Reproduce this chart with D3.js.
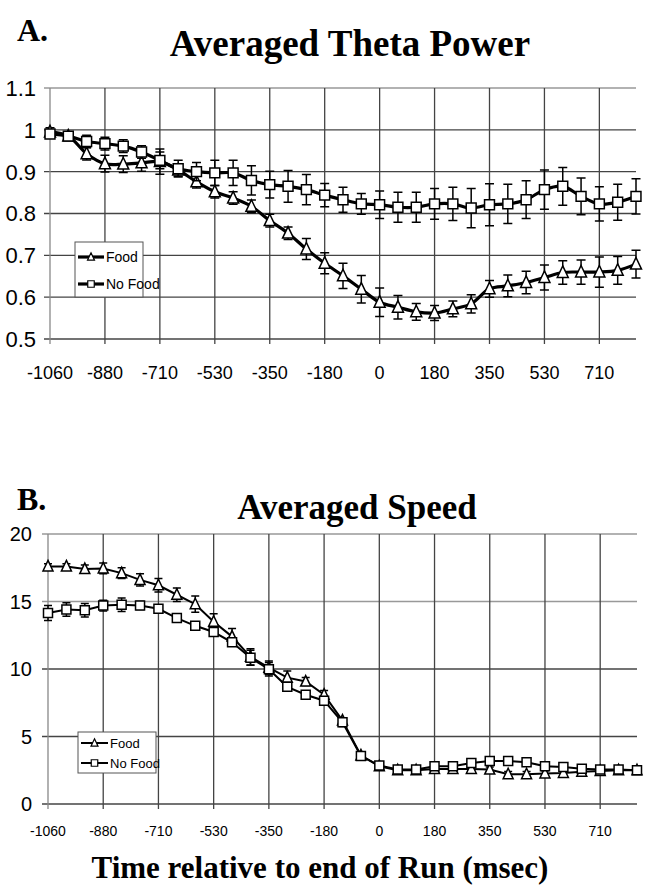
<!DOCTYPE html>
<meta charset="utf-8">
<style>
body { margin: 0; background: #fff; }
.title { font-family: "Liberation Serif", "Times New Roman", serif; font-weight: bold; }
.narrow { font-family: "Liberation Sans Narrow", "Arial Narrow", "Liberation Sans", sans-serif; }
.arial { font-family: "Liberation Sans", Arial, sans-serif; }
</style>
<svg width="646" height="891"></svg>
<script src="https://d3js.org/d3.v7.min.js"></script>
<script>

// category labels, one every 3 points
var tickLabels = ["-1060", "-880", "-710", "-530", "-350", "-180", "0", "180", "350", "530", "710"];

// A. theta power (33 points)
var thetaFood = [0.995, 0.985, 0.943, 0.919, 0.918, 0.921, 0.924, 0.904, 0.876, 0.852, 0.837, 0.817, 0.783, 0.753, 0.715, 0.681,
  0.651, 0.619, 0.588, 0.576, 0.565, 0.562, 0.572, 0.584, 0.620, 0.627, 0.635, 0.647, 0.659, 0.660, 0.660, 0.664, 0.679];
var thetaFoodErr = [0.01, 0.01, 0.015, 0.02, 0.02, 0.02, 0.03, 0.015, 0.015, 0.015, 0.015, 0.015, 0.015, 0.015, 0.025, 0.025,
  0.03, 0.033, 0.034, 0.028, 0.02, 0.018, 0.019, 0.022, 0.02, 0.026, 0.027, 0.03, 0.028, 0.029, 0.036, 0.033, 0.033];
var thetaNoFood = [0.99, 0.985, 0.972, 0.967, 0.961, 0.947, 0.927, 0.907, 0.900, 0.897, 0.897, 0.879, 0.869, 0.865, 0.857, 0.844,
  0.833, 0.823, 0.821, 0.815, 0.815, 0.823, 0.823, 0.813, 0.821, 0.823, 0.833, 0.857, 0.865, 0.841, 0.823, 0.827, 0.841];
var thetaNoFoodErr = [0.01, 0.01, 0.015, 0.015, 0.015, 0.015, 0.02, 0.02, 0.022, 0.03, 0.03, 0.035, 0.032, 0.038, 0.036, 0.028,
  0.03, 0.025, 0.033, 0.036, 0.036, 0.037, 0.04, 0.047, 0.05, 0.047, 0.045, 0.047, 0.045, 0.044, 0.041, 0.043, 0.042];

// B. speed (33 points)
var speedFood = [17.6, 17.6, 17.4, 17.45, 17.1, 16.6, 16.2, 15.5, 14.8, 13.5, 12.4, 10.9, 10.1, 9.36, 9.07, 8.1,
  6.18, 3.6, 2.8, 2.5, 2.5, 2.6, 2.6, 2.6, 2.55, 2.2, 2.2, 2.26, 2.3, 2.38, 2.45, 2.5, 2.5];
var speedFoodErr = [0.2, 0.2, 0.3, 0.4, 0.4, 0.45, 0.5, 0.5, 0.6, 0.6, 0.6, 0.6, 0.5, 0.5, 0.3, 0.3,
  0.2, 0.2, 0.2, 0.2, 0.2, 0.2, 0.2, 0.2, 0.2, 0.2, 0.2, 0.2, 0.2, 0.2, 0.2, 0.2, 0.2];
var speedNoFood = [14.15, 14.4, 14.35, 14.7, 14.76, 14.7, 14.46, 13.77, 13.2, 12.74, 11.98, 10.83, 9.98, 8.68, 8.09, 7.65,
  6.05, 3.55, 2.85, 2.55, 2.55, 2.8, 2.8, 3.04, 3.18, 3.18, 3.1, 2.8, 2.74, 2.62, 2.55, 2.55, 2.5];
var speedNoFoodErr = [0.55, 0.5, 0.5, 0.4, 0.5, 0.3, 0.3, 0.3, 0.3, 0.3, 0.3, 0.55, 0.5, 0.3, 0.3, 0.3,
  0.3, 0.2, 0.2, 0.2, 0.2, 0.2, 0.2, 0.2, 0.2, 0.2, 0.2, 0.2, 0.2, 0.2, 0.2, 0.2, 0.2];

var svg = d3.select("svg");

function triangle(s) {
  return "M0," + (-s * 0.6) + "L" + (s / 2) + "," + (s * 0.45) + "L" + (-s / 2) + "," + (s * 0.45) + "Z";
}
function square(s) {
  return "M" + (-s / 2) + "," + (-s / 2) + "h" + s + "v" + s + "h" + (-s) + "Z";
}

function drawPanel(p) {
  var x = d3.scaleLinear().domain([0, 32]).range([p.left, p.right]);
  var y = d3.scaleLinear().domain(p.domain).range([p.bottom, p.top]);
  var g = svg.append("g");

  // gridlines
  g.selectAll(".hgrid").data(p.yticks).enter().append("line")
      .attr("x1", p.left - 6).attr("x2", p.right)
      .attr("y1", function(d) { return y(d); }).attr("y2", function(d) { return y(d); })
      .attr("stroke", function(d, i) { return i == p.yticks.length - 1 || d == p.lightY ? "#999" : "#444"; })
      .attr("stroke-width", 1.3);
  var xt = d3.range(0, 33, 3);
  g.selectAll(".vgrid").data(xt).enter().append("line")
      .attr("x1", function(d) { return x(d); }).attr("x2", function(d) { return x(d); })
      .attr("y1", p.top).attr("y2", p.bottom + 5)
      .attr("stroke", function(d) { return d == 0 ? "#888" : "#444"; })
      .attr("stroke-width", 1.3);

  // axis labels
  g.selectAll(".yl").data(p.yticks).enter().append("text")
      .attr("class", p.yfont)
      .attr("x", p.ylabelX).attr("y", function(d) { return y(d); })
      .attr("dy", "0.36em")
      .attr("text-anchor", "end")
      .style("font-size", p.ysize + "px")
      .text(p.yformat);
  g.selectAll(".xl").data(xt).enter().append("text")
      .attr("class", p.xfont)
      .attr("x", function(d) { return x(d); }).attr("y", p.xlabelY)
      .attr("text-anchor", "middle")
      .style("font-size", p.xsize + "px")
      .text(function(d, i) { return tickLabels[i]; });

  var line = d3.line()
      .x(function(d, i) { return x(i); })
      .y(function(d) { return y(d); })
      .curve(p.curve);

  p.series.forEach(function(s) {
    var sg = g.append("g");
    // error bars
    sg.selectAll(".eb").data(s.values).enter().append("path")
        .attr("d", function(d, i) {
          var cx = x(i), y0 = y(d - s.err[i]), y1 = y(d + s.err[i]), c = p.cap;
          return "M" + cx + "," + y0 + "V" + y1 + "M" + (cx - c) + "," + y1 + "H" + (cx + c) +
            "M" + (cx - c) + "," + y0 + "H" + (cx + c);
        })
        .attr("stroke", "#000").attr("stroke-width", 1.5).attr("fill", "none");
    sg.append("path").datum(s.values)
        .attr("d", line)
        .attr("fill", "none").attr("stroke", "#000").attr("stroke-width", p.lineWidth);
    sg.selectAll(".mk").data(s.values).enter().append("path")
        .attr("transform", function(d, i) { return "translate(" + x(i) + "," + y(d) + ")"; })
        .attr("d", s.shape == "tri" ? triangle(p.marker) : square(p.marker * 0.9))
        .attr("fill", "#fff").attr("stroke", "#000").attr("stroke-width", 1.5);
  });

  // legend
  var L = p.legend;
  var lg = g.append("g").attr("transform", "translate(" + L.x + "," + L.y + ")");
  lg.append("rect").attr("width", L.w).attr("height", L.h)
      .attr("fill", "#fff").attr("stroke", "#555").attr("stroke-width", 1);
  p.series.forEach(function(s, i) {
    var ly = L.row0 + i * L.step;
    lg.append("line").attr("x1", 3).attr("x2", L.lineLen).attr("y1", ly).attr("y2", ly)
        .attr("stroke", "#000").attr("stroke-width", p.lineWidth);
    lg.append("path").attr("transform", "translate(" + (3 + L.lineLen) / 2 + "," + ly + ")")
        .attr("d", s.shape == "tri" ? triangle(7) : square(6.5))
        .attr("fill", "#fff").attr("stroke", "#000").attr("stroke-width", 1.2);
    lg.append("text").attr("class", L.font)
        .attr("x", L.lineLen + 2).attr("y", ly).attr("dy", "0.36em")
        .style("font-size", L.size + "px")
        .text(s.name);
  });
}

// titles
svg.append("text").attr("class", "title").attr("x", 17).attr("y", 41).style("font-size", "32px").text("A.");
svg.append("text").attr("class", "title").attr("x", 350).attr("y", 56).attr("text-anchor", "middle")
    .style("font-size", "37px").text("Averaged Theta Power");
svg.append("text").attr("class", "title").attr("x", 17).attr("y", 510).style("font-size", "32px").text("B.");
svg.append("text").attr("class", "title").attr("x", 357).attr("y", 519).attr("text-anchor", "middle")
    .style("font-size", "35px").text("Averaged Speed");
svg.append("text").attr("class", "title").attr("x", 320).attr("y", 878).attr("text-anchor", "middle")
    .style("font-size", "31px").text("Time relative to end of Run (msec)");

drawPanel({
  left: 50, right: 636, top: 88, bottom: 339,
  domain: [0.5, 1.1], yticks: [0.5, 0.6, 0.7, 0.8, 0.9, 1.0, 1.1],
  yformat: function(d) { return d == 1 ? "1" : d3.format(".1f")(d); },
  ylabelX: 36, ysize: 22, yfont: "narrow",
  xlabelY: 379, xsize: 18, xfont: "narrow",
  curve: d3.curveCatmullRom.alpha(0.5), lineWidth: 3.2, marker: 11, cap: 4.5,
  series: [
    { name: "Food", shape: "tri", values: thetaFood, err: thetaFoodErr },
    { name: "No Food", shape: "sq", values: thetaNoFood, err: thetaNoFoodErr }
  ],
  legend: { x: 75, y: 242, w: 68, h: 55, row0: 15, step: 27, lineLen: 29, font: "narrow", size: 14 }
});

drawPanel({
  left: 48, right: 637, top: 534, bottom: 804,
  domain: [0, 20], yticks: [0, 5, 10, 15, 20], lightY: 15,
  yformat: function(d) { return d; },
  ylabelX: 32, ysize: 20, yfont: "arial",
  xlabelY: 836, xsize: 14, xfont: "arial",
  curve: d3.curveLinear, lineWidth: 2, marker: 10, cap: 4,
  series: [
    { name: "Food", shape: "tri", values: speedFood, err: speedFoodErr },
    { name: "No Food", shape: "sq", values: speedNoFood, err: speedNoFoodErr }
  ],
  legend: { x: 78, y: 732, w: 78, h: 41, row0: 11, step: 20, lineLen: 30, font: "arial", size: 13 }
});

</script>
